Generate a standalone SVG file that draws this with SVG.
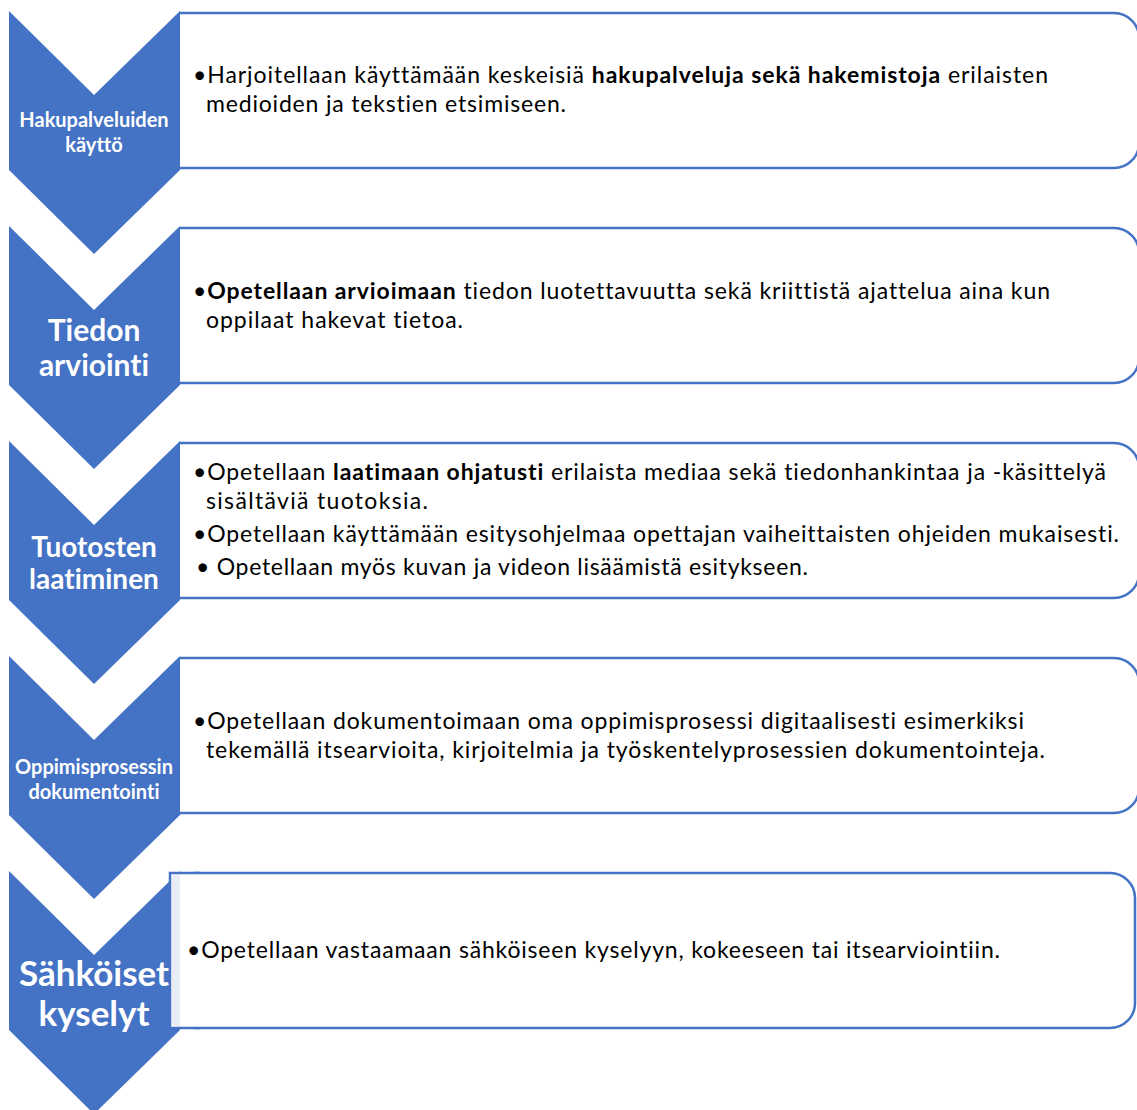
<svg xmlns="http://www.w3.org/2000/svg" width="1137" height="1110" viewBox="0 0 1137 1110">
<style>
.chev{fill:#4472C4;}
.box{fill:#FFFFFF;stroke:#4472C4;stroke-width:2.5;}
.lbl{font-family:Lato,"Open Sans","Liberation Sans",sans-serif;font-weight:bold;fill:#FFFFFF;text-anchor:middle;font-variant-ligatures:none;}
.txt{font-family:Lato,"Open Sans","Liberation Sans",sans-serif;font-size:23px;fill:#000000;font-variant-ligatures:none;}
.b{font-weight:bold;}
</style>
<rect width="1137" height="1110" fill="#FFFFFF"/>
<g id="connectors"></g>

<g id="stage1">
<path class="chev" d="M9,11 L94,95 L180,11 L180,170 L94,254 L9,170 Z"/>
<path class="box" d="M180,13 H1114 A25,25 0 0 1 1139,38 V143 A25,25 0 0 1 1114,168 H180"/>
<text class="lbl" font-size="20" x="94" y="127">Hakupalveluiden</text>
<text class="lbl" font-size="20" x="94" y="152">käyttö</text>
<text class="txt" x="193" y="83" textLength="855">•Harjoitellaan käyttämään keskeisiä <tspan class="b">hakupalveluja sekä hakemistoja</tspan> erilaisten</text>
<text class="txt" x="206" y="112" textLength="360">medioiden ja tekstien etsimiseen.</text>
</g>

<g id="stage2">
<path class="chev" d="M9,226 L94,310 L180,226 L180,385 L94,469 L9,385 Z"/>
<path class="box" d="M180,228 H1114 A25,25 0 0 1 1139,253 V358 A25,25 0 0 1 1114,383 H180"/>
<text class="lbl" font-size="30" x="94" y="341">Tiedon</text>
<text class="lbl" font-size="30" x="94" y="376">arviointi</text>
<text class="txt" x="193" y="299" textLength="857">•<tspan class="b">Opetellaan arvioimaan</tspan> tiedon luotettavuutta sekä kriittistä ajattelua aina kun</text>
<text class="txt" x="206" y="328" textLength="257">oppilaat hakevat tietoa.</text>
</g>

<g id="stage3">
<path class="chev" d="M9,441 L94,525 L180,441 L180,600 L94,684 L9,600 Z"/>
<path class="box" d="M180,443 H1114 A25,25 0 0 1 1139,468 V573 A25,25 0 0 1 1114,598 H180"/>
<text class="lbl" font-size="28" x="94" y="557">Tuotosten</text>
<text class="lbl" font-size="28" x="94" y="589">laatiminen</text>
<text class="txt" x="193" y="480" textLength="913">•Opetellaan <tspan class="b">laatimaan ohjatusti</tspan> erilaista mediaa sekä tiedonhankintaa ja -käsittelyä</text>
<text class="txt" x="206" y="509" textLength="222">sisältäviä tuotoksia.</text>
<text class="txt" x="193" y="542" textLength="926">•Opetellaan käyttämään esitysohjelmaa opettajan vaiheittaisten ohjeiden mukaisesti.</text>
<text class="txt" x="196" y="575" textLength="612">• Opetellaan myös kuvan ja videon lisäämistä esitykseen.</text>
</g>

<g id="stage4">
<path class="chev" d="M9,656 L94,740 L180,656 L180,815 L94,899 L9,815 Z"/>
<path class="box" d="M180,658 H1114 A25,25 0 0 1 1139,683 V788 A25,25 0 0 1 1114,813 H180"/>
<text class="lbl" font-size="20" x="94" y="774">Oppimisprosessin</text>
<text class="lbl" font-size="20" x="94" y="799">dokumentointi</text>
<text class="txt" x="193" y="729" textLength="831">•Opetellaan dokumentoimaan oma oppimisprosessi digitaalisesti esimerkiksi</text>
<text class="txt" x="206" y="758" textLength="839">tekemällä itsearvioita, kirjoitelmia ja työskentelyprosessien dokumentointeja.</text>
</g>

<g id="stage5">
<path class="chev" d="M9,871 L94,955 L180,871 L180,1030 L94,1114 L9,1030 Z"/>
<rect class="box" x="170" y="873" width="965" height="155" rx="25" ry="25"/>
<path d="M170,873 H200 V1028 H170 Z" fill="#FFFFFF" stroke="none"/>
<rect x="172" y="875" width="8" height="151" fill="#E9EDF7"/>
<path d="M200,873 H170 V1028 H200" fill="none" stroke="#4472C4" stroke-width="2.5"/>
<text class="lbl" font-size="35" x="94" y="986">Sähköiset</text>
<text class="lbl" font-size="35" x="94" y="1026">kyselyt</text>
<text class="txt" x="187" y="958" textLength="813">•Opetellaan vastaamaan sähköiseen kyselyyn, kokeeseen tai itsearviointiin.</text>
</g>
</svg>
